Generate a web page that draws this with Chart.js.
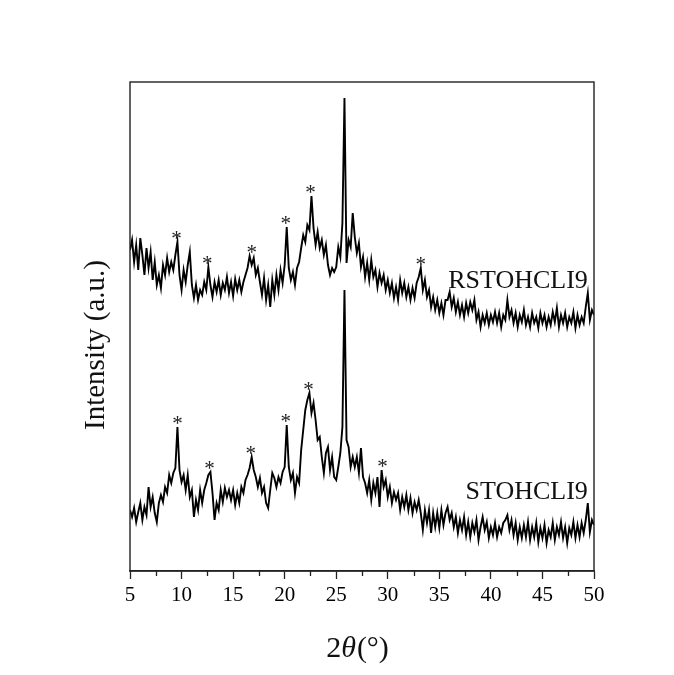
<!DOCTYPE html>
<html>
<head>
<meta charset="utf-8">
<script src="https://cdn.jsdelivr.net/npm/chart.js@4.4.1/dist/chart.umd.min.js"></script>
<style>
  html, body { margin: 0; padding: 0; background: #fff; }
  #wrap { width: 674px; height: 675px; }
</style>
</head>
<body>
<div id="wrap"><canvas id="xrd" width="674" height="675"></canvas></div>
<script>
// 2theta (deg), every 0.2 deg
const twoTheta = [
  5.0, 5.2, 5.4, 5.6, 5.8, 6.0, 6.2, 6.4, 6.6, 6.8, 7.0, 7.2, 7.4, 7.6, 7.8, 8.0, 8.2, 8.4, 8.6, 8.8,
  9.0, 9.2, 9.4, 9.6, 9.8, 10.0, 10.2, 10.4, 10.6, 10.8, 11.0, 11.2, 11.4, 11.6, 11.8, 12.0, 12.2, 12.4, 12.6, 12.8,
  13.0, 13.2, 13.4, 13.6, 13.8, 14.0, 14.2, 14.4, 14.6, 14.8, 15.0, 15.2, 15.4, 15.6, 15.8, 16.0, 16.2, 16.4, 16.6, 16.8,
  17.0, 17.2, 17.4, 17.6, 17.8, 18.0, 18.2, 18.4, 18.6, 18.8, 19.0, 19.2, 19.4, 19.6, 19.8, 20.0, 20.2, 20.4, 20.6, 20.8,
  21.0, 21.2, 21.4, 21.6, 21.8, 22.0, 22.2, 22.4, 22.6, 22.8, 23.0, 23.2, 23.4, 23.6, 23.8, 24.0, 24.2, 24.4, 24.6, 24.8,
  25.0, 25.2, 25.4, 25.6, 25.8, 26.0, 26.2, 26.4, 26.6, 26.8, 27.0, 27.2, 27.4, 27.6, 27.8, 28.0, 28.2, 28.4, 28.6, 28.8,
  29.0, 29.2, 29.4, 29.6, 29.8, 30.0, 30.2, 30.4, 30.6, 30.8, 31.0, 31.2, 31.4, 31.6, 31.8, 32.0, 32.2, 32.4, 32.6, 32.8,
  33.0, 33.2, 33.4, 33.6, 33.8, 34.0, 34.2, 34.4, 34.6, 34.8, 35.0, 35.2, 35.4, 35.6, 35.8, 36.0, 36.2, 36.4, 36.6, 36.8,
  37.0, 37.2, 37.4, 37.6, 37.8, 38.0, 38.2, 38.4, 38.6, 38.8, 39.0, 39.2, 39.4, 39.6, 39.8, 40.0, 40.2, 40.4, 40.6, 40.8,
  41.0, 41.2, 41.4, 41.6, 41.8, 42.0, 42.2, 42.4, 42.6, 42.8, 43.0, 43.2, 43.4, 43.6, 43.8, 44.0, 44.2, 44.4, 44.6, 44.8,
  45.0, 45.2, 45.4, 45.6, 45.8, 46.0, 46.2, 46.4, 46.6, 46.8, 47.0, 47.2, 47.4, 47.6, 47.8, 48.0, 48.2, 48.4, 48.6, 48.8,
  49.0, 49.2, 49.4, 49.6, 49.8, 50.0
];

// intensity (a.u.), upper trace
const rstohcli9 = [
  321, 331, 309, 326, 301, 333, 316, 296, 323, 303, 319, 291, 309, 286, 296, 283, 306, 296, 313, 299,
  309, 301, 316, 329, 296, 281, 301, 289, 306, 319, 286, 273, 286, 271, 281, 276, 289, 281, 304, 286,
  274, 289, 279, 291, 276, 288, 281, 294, 278, 289, 275, 292, 281, 291, 279, 289, 296, 303, 315, 306,
  313, 296, 303, 289, 276, 293, 271, 286, 264, 291, 276, 296, 281, 301, 288, 306, 344, 303, 291, 299,
  286, 303, 309, 323, 336, 329, 346, 341, 375, 343, 326, 339, 323, 331, 316, 326, 306, 296, 303, 299,
  304, 324, 314, 348, 473, 308, 331, 324, 358, 334, 318, 328, 304, 314, 294, 308, 291, 311, 294, 301,
  284, 298, 288, 296, 281, 291, 278, 288, 273, 284, 271, 291, 278, 288, 274, 284, 271, 283, 273, 288,
  294, 303, 281, 291, 274, 281, 264, 274, 261, 271, 258, 268, 256, 271, 271, 279, 264, 273, 259, 269,
  256, 266, 254, 268, 258, 269, 261, 271, 251, 259, 244, 256, 248, 258, 246, 256, 249, 259, 248, 258,
  244, 256, 251, 271, 254, 261, 248, 258, 244, 256, 249, 261, 246, 254, 244, 258, 248, 254, 243, 258,
  248, 256, 244, 254, 246, 259, 249, 263, 244, 256, 248, 258, 244, 254, 248, 259, 243, 256, 246, 254,
  248, 264, 278, 251, 261, 256
];

// intensity (a.u.), lower trace
const stohcli9 = [
  61, 54, 63, 49, 59, 68, 51, 64, 56, 84, 64, 74, 58, 49, 68, 76, 69, 84, 78, 96,
  88, 98, 103, 144, 101, 89, 96, 81, 96, 74, 81, 54, 71, 61, 81, 68, 81, 88, 96, 99,
  78, 51, 68, 61, 81, 69, 83, 74, 81, 71, 81, 66, 78, 68, 84, 78, 91, 96, 103, 114,
  101, 94, 84, 93, 78, 84, 68, 63, 81, 98, 93, 84, 94, 88, 99, 104, 146, 104, 91, 98,
  78, 94, 88, 121, 141, 161, 171, 178, 158, 168, 151, 131, 134, 114, 98, 118, 124, 101, 114, 94,
  91, 104, 118, 144, 281, 131, 124, 104, 114, 104, 114, 98, 123, 94, 88, 78, 91, 71, 88, 78,
  94, 64, 101, 84, 91, 74, 84, 68, 79, 71, 78, 61, 74, 64, 76, 61, 73, 58, 69, 61,
  71, 58, 41, 61, 48, 61, 38, 58, 44, 58, 43, 61, 46, 58, 64, 51, 58, 44, 54, 38,
  51, 41, 54, 36, 49, 34, 48, 39, 51, 31, 44, 54, 41, 49, 33, 44, 36, 48, 34, 44,
  38, 48, 51, 56, 41, 51, 36, 48, 31, 44, 33, 46, 34, 49, 31, 44, 34, 48, 29, 43,
  33, 46, 28, 41, 34, 48, 31, 44, 36, 49, 33, 44, 28, 43, 36, 49, 33, 46, 34, 48,
  38, 51, 68, 39, 51, 46
];

const seriesNames = ["RSTOHCLI9", "STOHCLI9"];
const xTicks = [5, 10, 15, 20, 25, 30, 35, 40, 45, 50];
const minorTicks = [7.5, 12.5, 17.5, 22.5, 27.5, 32.5, 37.5, 42.5, 47.5];
// peaks marked with * in the figure
const rstohcli9Stars = [9.5, 12.5, 16.8, 20.1, 22.5, 33.2];
const stohcli9Stars = [9.6, 12.7, 16.7, 20.1, 22.3, 29.5];

const serif = "'Liberation Serif', 'Times New Roman', serif";

function toPoints(ys) {
  return twoTheta.map((x, i) => ({ x: x, y: ys[i] }));
}

// draws frame, minor ticks, * marks, trace names and axis titles
const decor = {
  id: "decor",
  afterDraw(chart, args, opts) {
    const ctx = chart.ctx;
    const a = chart.chartArea;
    const xs = chart.scales.x;
    const ys = chart.scales.y;
    ctx.save();

    ctx.strokeStyle = "#222";
    ctx.lineWidth = 1.4;
    ctx.strokeRect(a.left, a.top, a.right - a.left, a.bottom - a.top);

    ctx.lineWidth = 1.3;
    ctx.beginPath();
    minorTicks.forEach(v => {
      const px = Math.round(xs.getPixelForValue(v)) + 0.5;
      ctx.moveTo(px, a.bottom);
      ctx.lineTo(px, a.bottom + 5);
    });
    ctx.stroke();

    ctx.fillStyle = "#222";
    ctx.font = "21px " + serif;
    ctx.textAlign = "center";
    ctx.textBaseline = "alphabetic";
    const marks = [[rstohcli9Stars, rstohcli9], [stohcli9Stars, stohcli9]];
    marks.forEach(([stars, ys2]) => {
      stars.forEach(s => {
        let top = -Infinity;
        twoTheta.forEach((t, i) => {
          if (Math.abs(t - s) <= 0.25 && ys2[i] > top) top = ys2[i];
        });
        const py = ys.getPixelForValue(top) - 8;
        ctx.fillText("*", xs.getPixelForValue(s), py + 11);
      });
    });

    ctx.fillStyle = "#111";
    ctx.font = "26px " + serif;
    ctx.textAlign = "right";
    opts.names.forEach(n => {
      ctx.fillText(n.text, xs.getPixelForValue(n.x), ys.getPixelForValue(n.y));
    });

    // x title: 2θ(°) with italic theta
    ctx.textAlign = "left";
    const big = "30px " + serif;
    const ital = "italic 30px " + serif;
    ctx.font = big; const w1 = ctx.measureText("2").width;
    ctx.font = ital; const w2 = ctx.measureText("\u03b8").width;
    ctx.font = big; const w3 = ctx.measureText("(\u00b0)").width;
    let x0 = (a.left + a.right) / 2 - 5 - (w1 + w2 + w3) / 2;
    const by = 657;
    ctx.font = big; ctx.fillText("2", x0, by);
    ctx.font = ital; ctx.fillText("\u03b8", x0 + w1, by);
    ctx.font = big; ctx.fillText("(\u00b0)", x0 + w1 + w2 + 1, by);

    // y title
    ctx.translate(104, 345);
    ctx.rotate(-Math.PI / 2);
    ctx.textAlign = "center";
    ctx.font = "29px " + serif;
    ctx.fillText("Intensity (a.u.)", 0, 0);

    ctx.restore();
  }
};

new Chart(document.getElementById("xrd"), {
  type: "line",
  data: {
    datasets: [
      { label: seriesNames[0], data: toPoints(rstohcli9), borderColor: "#000", borderWidth: 1.9, pointRadius: 0, tension: 0 },
      { label: seriesNames[1], data: toPoints(stohcli9), borderColor: "#000", borderWidth: 1.9, pointRadius: 0, tension: 0 }
    ]
  },
  options: {
    responsive: false,
    animation: false,
    devicePixelRatio: 1,
    layout: { padding: { left: 130, right: 80, top: 82, bottom: 0 } },
    plugins: {
      legend: { display: false },
      tooltip: { enabled: false },
      decor: {
        names: [
          { text: seriesNames[0], x: 49.4, y: 283 },
          { text: seriesNames[1], x: 49.4, y: 72 }
        ]
      }
    },
    scales: {
      x: {
        type: "linear",
        min: 5,
        max: 50,
        afterBuildTicks: (s) => { s.ticks = xTicks.map(v => ({ value: v })); },
        afterFit: (s) => { s.height = 104; },
        ticks: {
          color: "#000",
          font: { family: serif, size: 21 },
          padding: 4,
          maxRotation: 0,
          autoSkip: false
        },
        grid: { drawOnChartArea: false, drawTicks: true, tickLength: 8, tickColor: "#222", tickWidth: 1.3 },
        border: { display: true, color: "#222", width: 1.4 }
      },
      y: {
        display: false,
        min: 0,
        max: 489
      }
    }
  },
  plugins: [decor]
});
</script>
</body>
</html>
